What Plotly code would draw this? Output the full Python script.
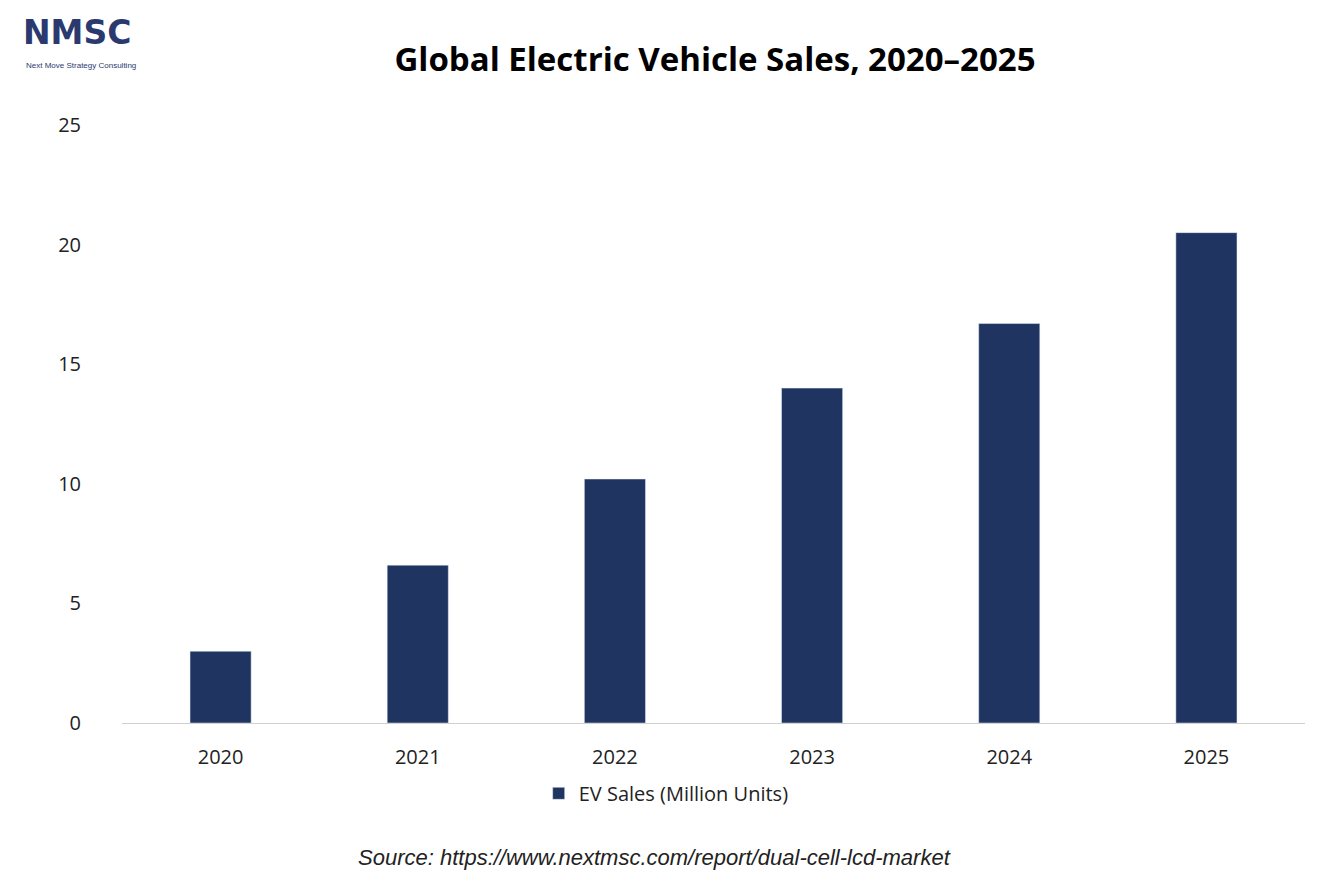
import plotly.graph_objects as go

years = ["2020", "2021", "2022", "2023", "2024", "2025"]
sales = [3.0, 6.6, 10.2, 14.0, 16.7, 20.5]
series_name = "EV Sales (Million Units)"

fig = go.Figure(go.Bar(x=years, y=sales, name=series_name, marker_color="#1f3460", width=0.31))
fig.update_layout(
    width=1334, height=889, plot_bgcolor="white", paper_bgcolor="white",
    margin=dict(l=114, r=37, t=117, b=174),
    font=dict(family="Open Sans, Liberation Sans, sans-serif", size=20, color="#222"),
    title=dict(text="<b>Global Electric Vehicle Sales, 2020–2025</b>", x=0.53, xanchor="center", y=0.955,
               font=dict(family="Open Sans, sans-serif", size=33, color="black")),
    showlegend=True,
    legend=dict(orientation="h", x=0.46, xanchor="center", y=-0.085, yanchor="top", font=dict(size=20)),
    bargap=0.69,
)
fig.update_yaxes(range=[0, 25], dtick=5, showgrid=False, zeroline=False, ticks="", ticklabelstandoff=40)
fig.update_xaxes(showline=True, linecolor="#d0d0d0", linewidth=1, ticks="", ticklabelstandoff=16)
fig.add_annotation(text="<i>Source: https://www.nextmsc.com/report/dual-cell-lcd-market</i>", xref="paper", yref="paper",
                   x=0.45, y=-0.2, showarrow=False, font=dict(family="Liberation Sans, Arial", size=22, color="#222"),
                   xanchor="center", yanchor="top")
fig.add_annotation(text="<b>NMSC</b>", xref="paper", yref="paper", x=-0.085, y=1.19, xanchor="left", yanchor="top",
                   showarrow=False, font=dict(family="DejaVu Sans", size=33, color="#2a3a6e"))
fig.add_annotation(text="Next Move Strategy Consulting", xref="paper", yref="paper", x=-0.083, y=1.11, xanchor="left",
                   yanchor="top", showarrow=False, font=dict(family="Liberation Sans", size=8, color="#2a3a6e"))
fig.write_html("out.html")
